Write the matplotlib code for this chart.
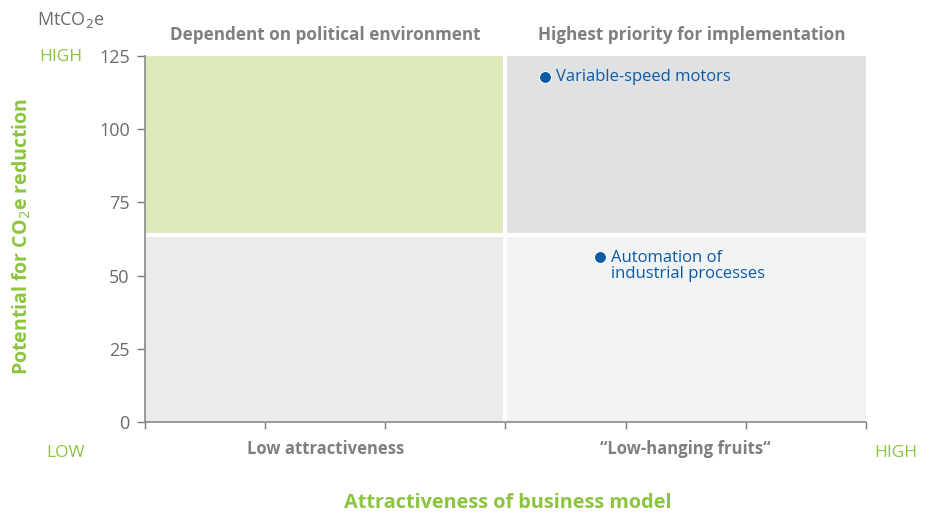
import matplotlib.pyplot as plt
from matplotlib.patches import Rectangle

# Quadrant layout (business attractiveness x, CO2 potential y)
x_max = 6
x_split = 3
y_max = 125
y_split = 64
y_ticks = [0, 25, 50, 75, 100, 125]

quadrant_colors = {
    "bottom_left": "#ebebed",
    "bottom_right": "#f2f3f5",
    "top_left": "#dde8bb",
    "top_right": "#e0e1e3",
}

levers = ["Variable-speed motors", "Automation of\nindustrial processes"]
lever_x = [3.33, 3.79]
lever_y = [118, 56.5]

top_titles = ["Dependent on political environment", "Highest priority for implementation"]
bottom_titles = ["Low attractiveness", "\u201cLow-hanging fruits\u201c"]

green = "#8cc43f"
gray_text = "#7f7f7f"
blue = "#0b5aa6"

plt.rcParams["font.family"] = ["Open Sans", "DejaVu Sans"]

fig = plt.figure(figsize=(9.3, 5.14), dpi=100, facecolor="white")
ax = fig.add_axes([0.156, 0.179, 0.775, 0.712])

# Quadrants
quads = [
    (0, 0, x_split, y_split, quadrant_colors["bottom_left"]),
    (x_split, 0, x_max - x_split, y_split, quadrant_colors["bottom_right"]),
    (0, y_split, x_split, y_max - y_split, quadrant_colors["top_left"]),
    (x_split, y_split, x_max - x_split, y_max - y_split, quadrant_colors["top_right"]),
]
for x0, y0, w, h, c in quads:
    ax.add_patch(Rectangle((x0, y0), w, h, facecolor=c, edgecolor="none", zorder=0))
ax.axvline(x_split, color="white", linewidth=3, zorder=1)
ax.axhline(y_split, color="white", linewidth=3, zorder=1)

# Levers
ax.scatter(lever_x, lever_y, s=75, color=blue, edgecolor="white", linewidth=0.8, zorder=3)
for lx, ly, name in zip(lever_x, lever_y, levers):
    va = "center" if "\n" not in name else "top"
    dy = 0 if va == "center" else 2.4
    ax.text(lx + 0.09, ly + dy, name, color=blue, fontsize=12, va=va, ha="left",
            linespacing=1.0, zorder=3)

ax.set_xlim(0, x_max)
ax.set_ylim(0, y_max)
ax.set_xticks(range(x_max + 1))
ax.set_xticklabels([])
ax.set_yticks(y_ticks)
ax.tick_params(axis="y", labelsize=13, labelcolor="#6b6b6b", color="#7a7a7a",
               length=6, width=1, pad=5)
ax.tick_params(axis="x", color="#7a7a7a", length=5, width=1)

for s in ["top", "right"]:
    ax.spines[s].set_visible(False)
for s in ["left", "bottom"]:
    ax.spines[s].set_color("#8a8a8a")
    ax.spines[s].set_linewidth(1.2)

# Quadrant titles
for i, t in enumerate(top_titles):
    ax.text(x_split * (i + 0.5) + (0.0 if i == 0 else 0.05), y_max + 4.0, t,
            ha="center", va="bottom", fontsize=12.3, fontweight="bold", color=gray_text)
for i, t in enumerate(bottom_titles):
    ax.text(x_split * (i + 0.5), -6.3, t, ha="center", va="top",
            fontsize=12, fontweight="bold", color=gray_text)

# Axis annotations
fig.text(37 / 930, 1 - 20 / 514, "MtCO$_2$e", fontsize=13, color="#6b6b6b",
         ha="left", va="center")
fig.text(39 / 930, 1 - 57 / 514, "HIGH", fontsize=12.5, color=green, ha="left",
         va="center")
fig.text(46 / 930, 1 - 453 / 514, "LOW", fontsize=12.5, color=green, ha="left",
         va="center")
fig.text(917 / 930, 1 - 453 / 514, "HIGH", fontsize=12.5, color=green, ha="right",
         va="center")
fig.text(22 / 930, 1 - 236 / 514, "Potential for CO$_2$e reduction", fontsize=14,
         fontweight="bold", color=green, rotation=90, ha="center", va="center")
fig.text(508 / 930, 1 - 503 / 514, "Attractiveness of business model", fontsize=14.3,
         fontweight="bold", color=green, ha="center", va="center")

fig.savefig("out.png", dpi=100, facecolor="white")
